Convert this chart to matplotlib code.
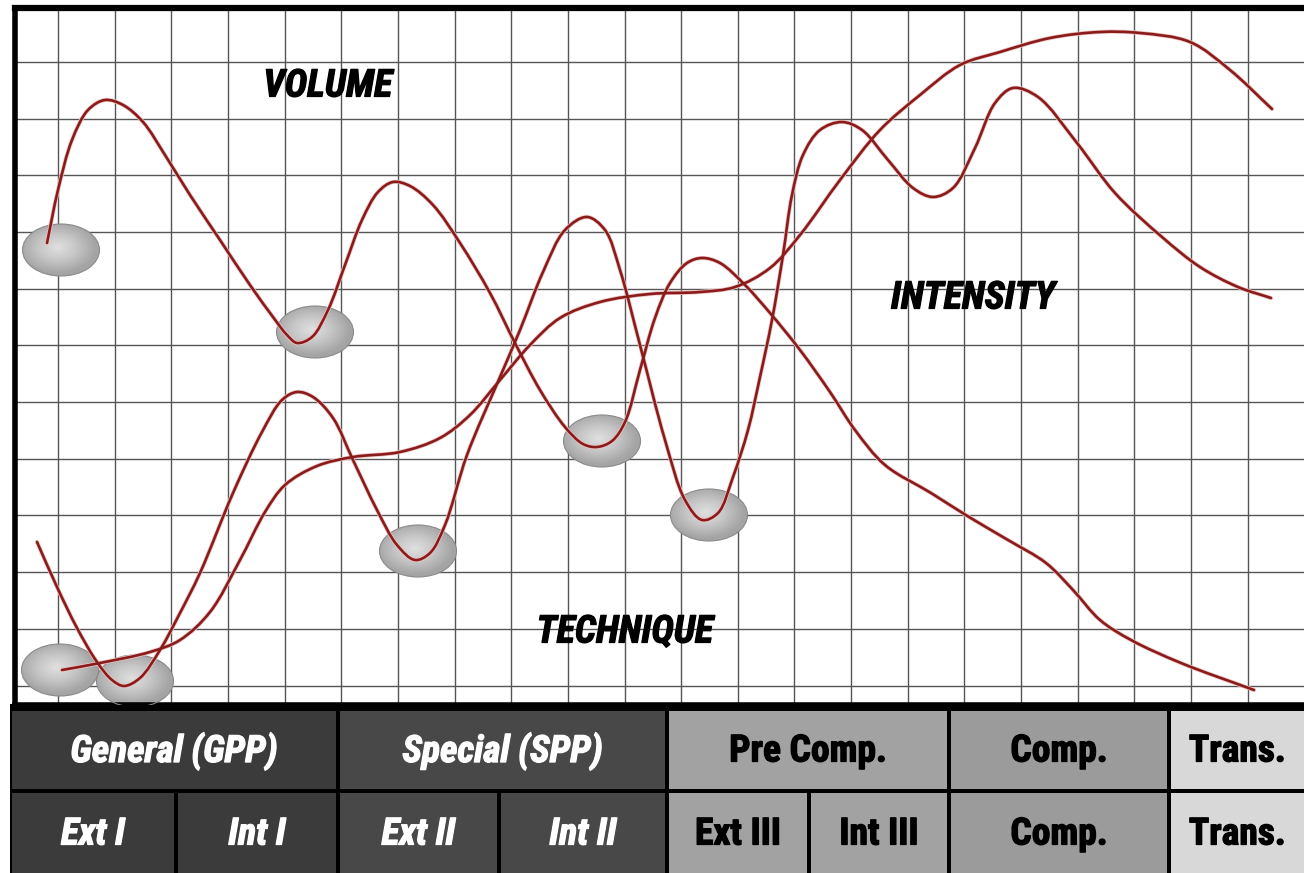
import numpy as np
import matplotlib
matplotlib.use('Agg')
import matplotlib.pyplot as plt
from matplotlib.patches import Ellipse, Rectangle, PathPatch
from matplotlib.path import Path
from matplotlib import font_manager as fm
from matplotlib.colors import LinearSegmentedColormap
import matplotlib.patheffects as pe

# ---------------- data (chart units: 1 grid cell = 56.7 units) ----------------
volume_x = [32, 43, 57, 73, 90, 108, 128, 150, 175, 205, 235, 258, 272, 282, 297, 313, 330, 347, 363, 378,
            395, 418, 445, 475, 500, 525, 550, 568, 582, 597, 610, 625, 640, 655, 672, 687, 705, 730,
            755, 785, 815, 840, 870, 916, 954, 993, 1031, 1058, 1085, 1116, 1166, 1239]
volume_y = [462, 515, 565, 595, 605, 600, 583, 550, 510, 465, 420, 388, 370, 362, 368, 395, 440, 485, 513, 523,
            519, 500, 462, 412, 362, 315, 278, 261, 258, 264, 283, 335, 387, 422, 442, 447, 442, 420,
            392, 355, 313, 275, 240, 212, 188, 165, 142, 115, 85, 65, 42, 15]

technique_x = [22, 42, 62, 82, 97, 109, 125, 145, 165, 185, 218, 247, 267, 282, 298, 318, 338, 362, 382,
               400, 415, 430, 452, 485, 505, 528, 550, 572, 590, 605, 625, 650, 670, 687, 703, 718, 733,
               745, 757, 768, 777, 788, 805, 827, 847, 873, 898, 918, 938, 960, 980, 998, 1023, 1062,
               1100, 1147, 1185, 1223, 1256]
technique_y = [163, 118, 77, 43, 25, 19, 27, 55, 92, 132, 212, 273, 305, 313, 308, 287, 245, 195, 160,
               145, 152, 180, 250, 328, 375, 433, 475, 488, 475, 435, 360, 265, 205, 185, 192, 228, 275,
               328, 385, 450, 510, 550, 575, 583, 575, 545, 517, 508, 517, 557, 602, 617, 608, 562,
               512, 468, 438, 418, 407]

intensity_x = [47, 85, 135, 165, 195, 225, 250, 270, 302, 338, 385, 425, 455, 485, 515, 545, 585, 635,
               685, 720, 755, 785, 825, 865, 905, 945, 985, 1035, 1085, 1125, 1175, 1215, 1257]
intensity_y = [35, 42, 53, 65, 93, 145, 193, 220, 239, 248, 253, 267, 290, 325, 360, 387, 403, 411,
               413, 418, 437, 470, 525, 575, 610, 640, 653, 667, 673, 672, 663, 635, 596]

marker_x = [46, 300, 403, 587, 694, 45, 120]
marker_y = [455, 373, 154, 264, 190, 35, 24]

curve_labels = ['VOLUME', 'INTENSITY', 'TECHNIQUE']
label_x = [313, 958, 610]
label_y = [619, 407, 73]

phases = ['General (GPP)', 'Special (SPP)', 'Pre Comp.', 'Comp.', 'Trans.']
subphases = ['Ext I', 'Int I', 'Ext II', 'Int II', 'Ext III', 'Int III', 'Comp.', 'Trans.']

# ---------------- style / layout ----------------
W, H = 1304, 873
names = {f.name for f in fm.fontManager.ttflist}
if 'Liberation Sans Narrow' in names:
    FONT, STRETCH = 'Liberation Sans Narrow', 'normal'
elif 'Roboto Condensed' in names:
    FONT, STRETCH = 'Roboto Condensed', 'normal'
else:
    FONT, STRETCH = 'DejaVu Sans', 'condensed'

LINE = '#8a1b1b'

fig = plt.figure(figsize=(W / 100, H / 100), dpi=100)
fig.patch.set_facecolor('white')

# table (layout in pixel units)
tab = fig.add_axes([0, 0, 1, 1], zorder=0)
tab.set_xlim(0, W)
tab.set_ylim(H, 0)
tab.axis('off')
tab.add_patch(Rectangle((10, 704), W - 10, H - 704, facecolor='black', edgecolor='none'))

row1 = (711, 789)
row2 = (793, 873)
phase_cols = [(12, 336), (340, 665), (669, 947), (951, 1167), (1171, 1304)]
phase_colors = ['#3b3b3b', '#484848', '#a2a2a2', '#9b9b9b', '#d8d8d8']
phase_dark = [True, True, False, False, False]
sub_cols = [(12, 174), (178, 336), (340, 497), (501, 665), (669, 807), (811, 947), (951, 1167), (1171, 1304)]
sub_phase_idx = [0, 0, 1, 1, 2, 2, 3, 4]

def cell(x0, x1, y0, y1, color, text, dark):
    tab.add_patch(Rectangle((x0, y0), x1 - x0, y1 - y0, facecolor=color, edgecolor='none'))
    c = 'white' if dark else 'black'
    tab.text((x0 + x1) / 2, (y0 + y1) / 2 + 1, text, ha='center', va='center',
             fontsize=27, fontweight='bold', family=FONT, stretch=STRETCH,
             style='italic' if dark else 'normal', color=c,
             path_effects=[pe.withStroke(linewidth=0.9, foreground=c)])

for (x0, x1), col, name, dk in zip(phase_cols, phase_colors, phases, phase_dark):
    cell(x0, x1, row1[0], row1[1], col, name, dk)
for (x0, x1), name, pi in zip(sub_cols, subphases, sub_phase_idx):
    cell(x0, x1, row2[0], row2[1], phase_colors[pi], name, phase_dark[pi])

# main chart
ax = fig.add_axes([15 / W, (H - 705) / H, 1289 / W, 697 / H], zorder=1)
ax.set_facecolor('white')
ax.set_xticks(np.arange(43, 1289, 56.65))
ax.set_yticks(np.arange(19.5, 697, 56.7))
ax.tick_params(length=0, labelbottom=False, labelleft=False)
ax.grid(True, color='#555555', linewidth=1.0)
ax.set_axisbelow(True)
ax.spines['right'].set_visible(False)
ax.spines['left'].set_linewidth(4.0)
ax.spines['top'].set_linewidth(4.5)
ax.spines['bottom'].set_linewidth(4.0)
for s in ['left', 'top', 'bottom']:
    ax.spines[s].set_color('black')

# gray markers with radial gradient
cmap = LinearSegmentedColormap.from_list('g', ['#e0e0e0', '#c6c6c6', '#a4a4a4'])
gy, gx = np.mgrid[-1:1:120j, -1:1:120j]
rad = np.clip(np.sqrt((gx + 0.1) ** 2 + (gy - 0.1) ** 2), 0, 1)
mw, mh = 77, 52
for cx, cy in zip(marker_x, marker_y):
    e = Ellipse((cx, cy), mw, mh, facecolor='none', edgecolor='#8a8a8a', linewidth=0.8, zorder=3)
    ax.add_patch(e)
    im = ax.imshow(rad, cmap=cmap, vmin=0, vmax=1, extent=(cx - mw / 2, cx + mw / 2, cy - mh / 2, cy + mh / 2),
                   origin='lower', aspect='auto', zorder=2, interpolation='bilinear')
    im.set_clip_path(e)

def smooth_path(xs, ys, alpha=0.5):
    """Centripetal Catmull-Rom spline through the points, as cubic Bezier segments."""
    p = np.column_stack([xs, ys]).astype(float)
    pts = np.vstack([2 * p[0] - p[1], p, 2 * p[-1] - p[-2]])
    d = np.linalg.norm(np.diff(pts, axis=0), axis=1) ** alpha
    d[d < 1e-6] = 1e-6
    t = np.concatenate([[0], np.cumsum(d)])
    verts = [tuple(p[0])]
    codes = [Path.MOVETO]
    for i in range(1, len(pts) - 2):
        p0, p1, p2, p3 = pts[i - 1], pts[i], pts[i + 1], pts[i + 2]
        t0, t1, t2, t3 = t[i - 1], t[i], t[i + 1], t[i + 2]
        m1 = (p1 - p0) / (t1 - t0) - (p2 - p0) / (t2 - t0) + (p2 - p1) / (t2 - t1)
        m2 = (p2 - p1) / (t2 - t1) - (p3 - p1) / (t3 - t1) + (p3 - p2) / (t3 - t2)
        dt = t2 - t1
        c1 = p1 + m1 * dt / 3
        c2 = p2 - m2 * dt / 3
        verts += [tuple(c1), tuple(c2), tuple(p2)]
        codes += [Path.CURVE4] * 3
    return Path(verts, codes)

for xs, ys in [(volume_x, volume_y), (technique_x, technique_y), (intensity_x, intensity_y)]:
    path = smooth_path(xs, ys)
    ax.add_patch(PathPatch(path, facecolor='none', edgecolor='#eec2c2', linewidth=3.0,
                           zorder=4, capstyle='round', joinstyle='round'))
    ax.add_patch(PathPatch(path, facecolor='none', edgecolor=LINE, linewidth=1.9,
                           zorder=5, capstyle='round', joinstyle='round'))

for t, x, y in zip(curve_labels, label_x, label_y):
    ax.text(x, y, t, ha='center', va='center', fontsize=27.5, fontweight='bold', style='italic',
            family=FONT, stretch=STRETCH, color='black', zorder=6,
            path_effects=[pe.withStroke(linewidth=0.9, foreground='black')])

ax.set_xlim(0, 1289)
ax.set_ylim(0, 697)

fig.savefig('out.png', dpi=100, facecolor='white')
